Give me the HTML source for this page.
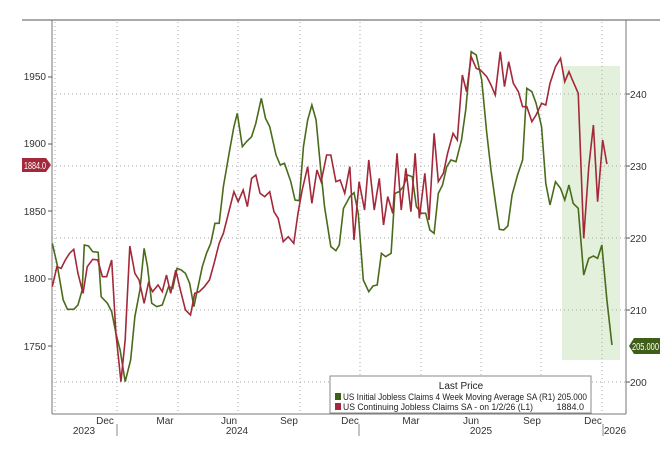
<!DOCTYPE html>
<html><head><style>
body{margin:0;background:#fff;width:660px;height:450px;overflow:hidden;font-family:"Liberation Sans",sans-serif;}
</style></head><body>
<svg width="660" height="450" style="position:absolute;left:0;top:0" font-family="Liberation Sans, sans-serif">
<line x1="22" y1="20" x2="660" y2="20" stroke="#555" stroke-width="1"/>
<rect x="562" y="66" width="58" height="294" fill="#e3f1dc"/>
<g stroke="#aaa" stroke-dasharray="1,3" stroke-width="1">
<line x1="52" y1="94" x2="626" y2="94"/><line x1="52" y1="166" x2="626" y2="166"/>
<line x1="52" y1="238" x2="626" y2="238"/><line x1="52" y1="310" x2="626" y2="310"/>
<line x1="52" y1="382" x2="626" y2="382"/>
<line x1="55" y1="22" x2="55" y2="414"/><line x1="117" y1="22" x2="117" y2="414"/>
<line x1="178" y1="22" x2="178" y2="414"/><line x1="238" y1="22" x2="238" y2="414"/>
<line x1="300" y1="22" x2="300" y2="414"/><line x1="360" y1="22" x2="360" y2="414"/>
<line x1="421" y1="22" x2="421" y2="414"/><line x1="481" y1="22" x2="481" y2="414"/>
<line x1="541" y1="22" x2="541" y2="414"/><line x1="602" y1="22" x2="602" y2="414"/>
</g>
<line x1="52" y1="20" x2="52" y2="414" stroke="#777"/>
<line x1="626" y1="20" x2="626" y2="414" stroke="#777"/>
<line x1="52" y1="414" x2="626" y2="414" stroke="#777"/>
<g font-size="10" fill="#333">
<text x="46" y="80" text-anchor="end">1950</text><text x="46" y="147" text-anchor="end">1900</text>
<text x="46" y="215" text-anchor="end">1850</text><text x="46" y="282" text-anchor="end">1800</text>
<text x="46" y="350" text-anchor="end">1750</text>
<text x="630" y="98">240</text><text x="630" y="170">230</text><text x="630" y="242">220</text>
<text x="630" y="314">210</text><text x="630" y="386">200</text>
<text x="105" y="424" text-anchor="middle">Dec</text><text x="165" y="424" text-anchor="middle">Mar</text>
<text x="229" y="424" text-anchor="middle">Jun</text><text x="289" y="424" text-anchor="middle">Sep</text>
<text x="350" y="424" text-anchor="middle">Dec</text><text x="411" y="424" text-anchor="middle">Mar</text>
<text x="471" y="424" text-anchor="middle">Jun</text><text x="532" y="424" text-anchor="middle">Sep</text>
<text x="593" y="424" text-anchor="middle">Dec</text>
<text x="84" y="434" text-anchor="middle">2023</text><text x="237" y="434" text-anchor="middle">2024</text>
<text x="481" y="434" text-anchor="middle">2025</text><text x="615" y="434" text-anchor="middle">2026</text>
</g>
<g stroke="#888"><line x1="117" y1="424" x2="117" y2="436"/><line x1="359" y1="424" x2="359" y2="436"/><line x1="603" y1="424" x2="603" y2="436"/></g>
<g stroke="#555"><line x1="48" y1="77" x2="52" y2="77"/><line x1="48" y1="144" x2="52" y2="144"/><line x1="48" y1="211" x2="52" y2="211"/><line x1="48" y1="279" x2="52" y2="279"/><line x1="48" y1="346" x2="52" y2="346"/>
<line x1="626" y1="94" x2="630" y2="94"/><line x1="626" y1="166" x2="630" y2="166"/><line x1="626" y1="238" x2="630" y2="238"/><line x1="626" y1="310" x2="630" y2="310"/><line x1="626" y1="382" x2="630" y2="382"/></g>
</svg>
<svg width="660" height="450" viewBox="0 0 1566 1350" preserveAspectRatio="none" style="position:absolute;left:0;top:0">
<polyline fill="none" stroke="#4a6b1c" stroke-width="1.6" vector-effect="non-scaling-stroke" points="124,730 135,790 150,900 160,928 175,928 185,915 195,870 200,735 210,738 220,755 233,757 240,890 255,910 265,935 275,1000 285,1050 297,1145 310,1080 320,950 332,870 342,745 350,800 360,910 372,920 385,915 400,860 410,865 420,805 430,810 440,820 450,850 460,920 470,860 480,800 490,760 500,730 510,670 520,670 530,560 545,450 555,380 563,340 575,440 585,425 597,410 607,370 620,295 630,355 640,380 655,465 665,495 675,490 690,545 700,600 710,602 720,440 730,360 740,315 750,360 760,495 770,620 785,740 797,752 805,735 815,625 830,590 840,578 850,640 862,840 875,875 885,858 895,855 905,760 915,770 928,760 937,580 947,575 957,560 967,525 978,530 988,620 1000,640 1010,640 1020,690 1030,700 1040,580 1050,555 1060,500 1070,480 1082,485 1095,420 1105,330 1118,155 1130,165 1143,240 1155,400 1165,510 1177,620 1185,688 1195,690 1205,678 1215,585 1228,525 1240,480 1250,265 1262,275 1272,310 1285,380 1295,550 1305,615 1318,545 1330,565 1340,600 1350,555 1360,610 1372,625 1385,825 1397,775 1408,768 1418,775 1428,735 1440,900 1452,1035"/>
<polyline fill="none" stroke="#a3283a" stroke-width="1.6" vector-effect="non-scaling-stroke" points="124,860 135,800 145,805 155,780 165,760 175,748 185,820 197,880 207,800 220,778 232,780 243,830 253,830 265,780 275,1000 287,1145 297,1020 308,738 320,820 330,840 342,910 352,850 362,875 375,855 385,875 395,825 405,880 417,810 428,870 440,930 452,945 462,880 473,875 485,860 497,840 508,790 520,730 530,700 540,650 555,575 565,605 577,570 587,620 597,535 607,525 617,580 628,590 640,575 650,635 660,655 672,725 684,710 697,730 707,640 717,570 730,500 740,610 752,510 762,545 775,465 785,465 797,545 807,540 818,580 830,500 840,720 852,545 865,630 875,480 888,630 900,535 910,675 920,590 932,640 942,460 952,630 963,505 975,635 985,460 995,655 1008,520 1018,660 1030,400 1040,545 1052,520 1062,460 1075,400 1085,420 1097,225 1107,275 1118,170 1130,205 1140,210 1155,230 1165,255 1175,285 1187,155 1197,260 1207,185 1218,250 1230,275 1240,320 1250,320 1262,365 1272,345 1285,310 1295,315 1305,250 1318,200 1330,175 1340,245 1350,215 1360,245 1372,280 1385,715 1397,500 1408,375 1418,605 1430,420 1440,492"/>
</svg>
<svg width="660" height="450" style="position:absolute;left:0;top:0" font-family="Liberation Sans, sans-serif">
<path d="M22,158 H46 L51,165 L46,172 H22 Z" fill="#a3283a"/>
<text x="24" y="169" font-size="10" fill="#fff" textLength="22" lengthAdjust="spacingAndGlyphs">1884.0</text>
<path d="M634,338 H660 V354 H634 L629,346 Z" fill="#3f5e18"/>
<text x="632" y="350" font-size="10" fill="#fff" textLength="27" lengthAdjust="spacingAndGlyphs">205.000</text>
<rect x="330" y="376" width="261" height="37" fill="#fff" stroke="#888"/>
<text x="461" y="389" font-size="10" text-anchor="middle" fill="#222">Last Price</text>
<rect x="335" y="393" width="6" height="7" fill="#3f5e18"/>
<text x="343" y="400" font-size="9" fill="#222" textLength="244" lengthAdjust="spacingAndGlyphs">US Initial Jobless Claims 4 Week Moving Average SA  (R1) 205.000</text>
<rect x="335" y="403" width="6" height="7" fill="#a3283a"/>
<text x="343" y="410" font-size="9" fill="#222" textLength="190" lengthAdjust="spacingAndGlyphs">US Continuing Jobless Claims SA -  on 1/2/26  (L1)</text>
<text x="584" y="410" font-size="9" fill="#222" text-anchor="end">1884.0</text>
</svg>
</body></html>
